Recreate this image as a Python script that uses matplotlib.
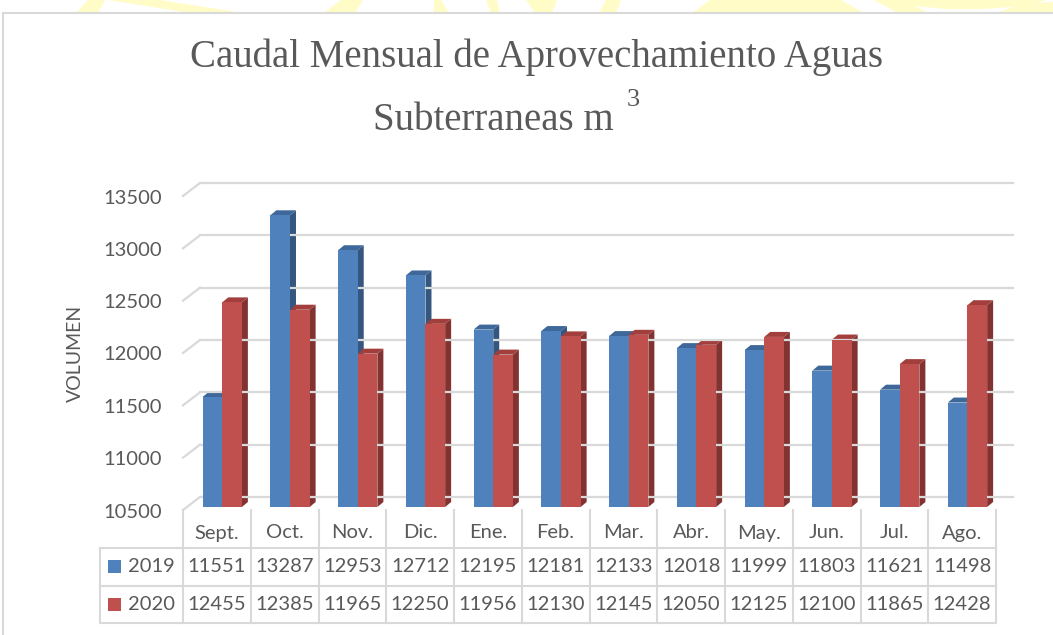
import numpy as np
import matplotlib.pyplot as plt
from matplotlib.patches import Polygon, Rectangle
from matplotlib.lines import Line2D
from matplotlib.transforms import IdentityTransform

months = ['Sept.', 'Oct.', 'Nov.', 'Dic.', 'Ene.', 'Feb.', 'Mar.', 'Abr.', 'May.', 'Jun.', 'Jul.', 'Ago.']
vol_2019 = [11551, 13287, 12953, 12712, 12195, 12181, 12133, 12018, 11999, 11803, 11621, 11498]
vol_2020 = [12455, 12385, 11965, 12250, 11956, 12130, 12145, 12050, 12125, 12100, 11865, 12428]
years = ['2019', '2020']
yticks = [10500, 11000, 11500, 12000, 12500, 13000, 13500]

front_cols = ['#4F81BD', '#C0504D']
side_cols = ['#35577F', '#823331']
top_cols = ['#3E6899', '#A23F3C']
grid_col = '#D9D9D9'
txt_col = '#595959'
font = 'Lato'

W, H = 1053, 635
fig = plt.figure(figsize=(W / 100, H / 100), dpi=100)
fig.patch.set_facecolor('white')

# helpers: pixel positions measured from the top-left corner
def fx(p):
    return p / W

def fy(p):
    return 1 - p / H

# axes = the plane where the bar fronts sit
ax = fig.add_axes([fx(187), fy(507), (1000 - 187) / W, (507 - 193) / H])
ax.set_xlim(0, 12)
ax.set_ylim(10500, 13500)
ax.axis('off')

ident = IdentityTransform()

def disp(x, y):
    return ax.transData.transform((x, y))

def fig_line(xs, ys, **kw):
    fig.add_artist(Line2D(xs, ys, transform=ident, **kw))

# yellow watermark peeking above the chart area (page background)
yel = '#FFFCC8'
strokes = [(88, 105, 76, 98), (108, 160, 190, 243), (341, 363, 324, 355), (434, 441, 434, 449),
           (486, 497, 491, 500), (526, 557, 535, 552), (606, 621, 599, 616), (710, 841, 692, 864)]
for a, b, c, d in strokes:
    fig.add_artist(Polygon([(a, H), (b, H), (d, H - 13), (c, H - 13)], closed=True,
                           transform=ident, facecolor=yel, edgecolor='none'))
arc_pts = [(874, 0), (1047, 0), (1023, 6), (985, 9), (945, 9), (915, 6), (928, 13), (898, 13)]
fig.add_artist(Polygon([(px, H - py) for px, py in arc_pts], closed=True,
                       transform=ident, facecolor=yel, edgecolor='none'))
arc_pts2 = [(996, 13), (1053, 13), (1053, 2), (1030, 3), (1010, 8)]
fig.add_artist(Polygon([(px, H - py) for px, py in arc_pts2], closed=True,
                       transform=ident, facecolor=yel, edgecolor='none'))

# chart area: white box with a light border (runs off the right and bottom edges)
fig.add_artist(Rectangle((3, 0), W, H - 13, transform=ident, facecolor='white',
                         edgecolor='none'))
fig_line([3, 3], [0, H - 13], color=grid_col, lw=1.5)
fig_line([3, W], [H - 13, H - 13], color=grid_col, lw=1.5)

back = np.array([13, 10])
front = np.array([-4, -3])

# back wall gridlines and the floor diagonals
for v in yticks:
    p0 = disp(0, v) + back
    p1 = disp(12, v) + back
    fig_line([p0[0], p1[0]], [p0[1], p1[1]], color=grid_col, lw=1.6)
    f0 = disp(0, v) + front
    fig_line([f0[0], p0[0]], [f0[1], p0[1]], color=grid_col, lw=1.6)
    fig.text(fx(162), (f0[1] - 2) / H, f'{v}', ha='right', va='center',
             fontsize=14.5, color=txt_col, family=font)

fig.text(fx(75), fy(353), 'VOLUMEN', rotation=90, ha='center', va='center',
         fontsize=14, color=txt_col, family=font)

# 3D-looking bars
x = np.arange(len(months)) + 0.5
bw = 0.29
dx, dy = 6, 5
for k, vals in enumerate([vol_2019, vol_2020]):
    lefts = x - bw + 0.02 if k == 0 else x + 0.02
    for l, v in zip(lefts, vals):
        br = disp(l + bw, 10500)
        tl = disp(l, v)
        tr = disp(l + bw, v)
        side = [br, tr, tr + (dx, dy), br + (dx, dy)]
        top = [tl, tr, tr + (dx, dy), tl + (dx, dy)]
        fig.add_artist(Polygon(side, closed=True, transform=ident,
                               facecolor=side_cols[k], edgecolor='none'))
        fig.add_artist(Polygon(top, closed=True, transform=ident,
                               facecolor=top_cols[k], edgecolor='none'))
    ax.bar(lefts, vals, width=bw, bottom=0, align='edge', color=front_cols[k],
           edgecolor='none', zorder=3)
    ax.set_ylim(10500, 13500)

# keep the bar fronts above the side faces
ax.set_zorder(5)
ax.patch.set_visible(False)

# data table
row_lines = [548, 586, 623]
col_top = 510
x_cols = [disp(i, 10500)[0] + front[0] for i in range(len(months) + 1)]
for yl in row_lines:
    fig_line([100, x_cols[-1]], [H - yl, H - yl], color=grid_col, lw=1.5)
fig_line([100, 100], [H - row_lines[0], H - row_lines[-1]], color=grid_col, lw=1.5)
for xc in x_cols:
    fig_line([xc, xc], [H - col_top, H - row_lines[-1]], color=grid_col, lw=1.5)

row_y = [566, 604]
for i, m in enumerate(months):
    cx = (x_cols[i] + x_cols[i + 1]) / 2
    fig.text(cx / W, fy(533), m, ha='center', va='center', fontsize=14.5,
             color=txt_col, family=font)
    for k, vals in enumerate([vol_2019, vol_2020]):
        fig.text(cx / W, fy(row_y[k]), f'{vals[i]}', ha='center', va='center',
                 fontsize=14.5, color=txt_col, family=font)

for k, yr in enumerate(years):
    fig.add_artist(Rectangle((108, H - row_y[k] - 7), 13, 13, transform=ident,
                             facecolor=front_cols[k], edgecolor='none'))
    fig.text(fx(128), fy(row_y[k]), yr, ha='left', va='center', fontsize=14.5,
             color=txt_col, family=font)

# title
fig.text(fx(537), fy(57), 'Caudal Mensual de Aprovechamiento Aguas', ha='center',
         va='center', fontsize=28, color=txt_col, family='Liberation Serif')
fig.text(fx(614), fy(120), 'Subterraneas m', ha='right', va='center',
         fontsize=28, color=txt_col, family='Liberation Serif')
fig.text(fx(627), fy(100), '3', ha='left', va='center',
         fontsize=19, color=txt_col, family='Liberation Serif')

fig.savefig('out.png', dpi=100)
